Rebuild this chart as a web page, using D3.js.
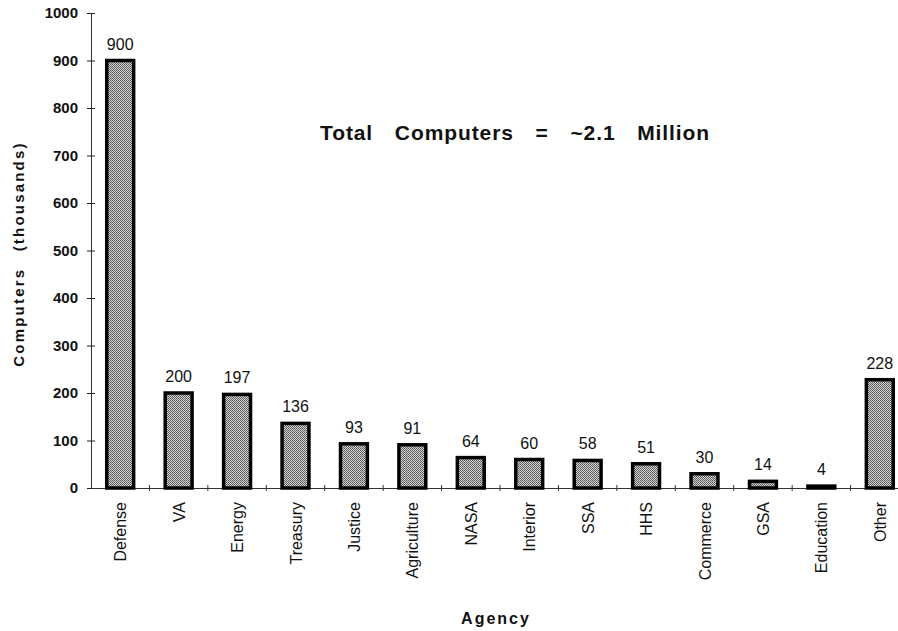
<!DOCTYPE html>
<html>
<head>
<meta charset="utf-8">
<script src="https://cdn.jsdelivr.net/npm/d3@7"></script>
<style>
  body { margin: 0; background: #fff; }
  text { font-family: "Liberation Sans", Arial, Helvetica, sans-serif; fill: #111; }
</style>
</head>
<body>
<div class="canvas"></div>
<script>
// data (thousands of computers)
const agencies = ["Defense", "VA", "Energy", "Treasury", "Justice", "Agriculture", "NASA",
                  "Interior", "SSA", "HHS", "Commerce", "GSA", "Education", "Other"];
const computers = [900, 200, 197, 136, 93, 91, 64, 60, 58, 51, 30, 14, 4, 228];
const yTicks = [0, 100, 200, 300, 400, 500, 600, 700, 800, 900, 1000];

const W = 898, H = 631;

const svg = d3.select(".canvas")
  .append("svg")
    .attr("width", W)
    .attr("height", H);

// stippled grey fill like the scanned bars
const defs = svg.append("defs");
const pat = defs.append("pattern")
    .attr("id", "stipple")
    .attr("patternUnits", "userSpaceOnUse")
    .attr("width", 2).attr("height", 2);
pat.append("rect").attr("width", 2).attr("height", 2).attr("fill", "#d4d4d4");
pat.append("rect").attr("width", 1).attr("height", 1).attr("fill", "#555");
pat.append("rect").attr("x", 1).attr("y", 1).attr("width", 1).attr("height", 1).attr("fill", "#666");

const x = d3.scaleBand()
    .domain(agencies)
    .range([91, 909])
    .paddingInner(0.54)
    .paddingOuter(0.27);

const y = d3.scaleLinear()
    .domain([0, 1000])
    .range([488, 13]);

// y axis
const yAxis = svg.append("g")
    .attr("transform", "translate(91,0)")
    .call(d3.axisLeft(y).tickValues(yTicks).tickFormat(d3.format("d")).tickSize(4).tickPadding(9));
yAxis.select(".domain").attr("stroke", "#333").attr("stroke-width", 1);
yAxis.selectAll(".tick line").attr("x2", 4).attr("x1", -4).attr("stroke", "#222");
yAxis.selectAll(".tick text")
    .style("font-size", "15px")
    .style("font-weight", "bold");

// baseline with ticks between bars
const xAxis = svg.append("g")
    .attr("transform", `translate(0,${y(0)})`)
    .call(d3.axisBottom(x).tickSize(0).tickFormat(""));
xAxis.select(".domain").attr("stroke", "#333").attr("stroke-width", 1);
xAxis.selectAll(".tick").remove();
const step = x.step();
svg.selectAll(".sep")
  .data(agencies.slice(1))
  .join("line")
    .attr("class", "sep")
    .attr("x1", d => x(d) - (step - x.bandwidth()) / 2)
    .attr("x2", d => x(d) - (step - x.bandwidth()) / 2)
    .attr("y1", y(0) - 3)
    .attr("y2", y(0) + 3)
    .attr("stroke", "#333");

// bars
svg.selectAll(".bar")
  .data(computers)
  .join("rect")
    .attr("class", "bar")
    .attr("x", (d, i) => x(agencies[i]))
    .attr("y", d => y(d))
    .attr("width", x.bandwidth())
    .attr("height", d => y(0) - y(d))
    .attr("fill", "url(#stipple)")
    .attr("stroke", "#000")
    .attr("stroke-width", 3.5);

// value labels
svg.selectAll(".val")
  .data(computers)
  .join("text")
    .attr("class", "val")
    .attr("x", (d, i) => x(agencies[i]) + x.bandwidth() / 2)
    .attr("y", d => y(d) - 11)
    .attr("text-anchor", "middle")
    .style("font-size", "16px")
    .text(d => d);

// category labels, rotated
svg.selectAll(".cat")
  .data(agencies)
  .join("text")
    .attr("class", "cat")
    .attr("transform", d => `translate(${x(d) + x.bandwidth() / 2 + 6},502) rotate(-90)`)
    .attr("text-anchor", "end")
    .style("font-size", "16px")
    .text(d => d);

// axis titles
svg.append("text")
    .attr("x", 496)
    .attr("y", 624)
    .attr("text-anchor", "middle")
    .style("font-size", "16px")
    .style("font-weight", "bold")
    .style("letter-spacing", "2px")
    .text("Agency");

svg.append("text")
    .attr("transform", "translate(24,254) rotate(-90)")
    .attr("text-anchor", "middle")
    .style("font-size", "15px")
    .style("font-weight", "bold")
    .style("letter-spacing", "2.2px")
    .style("word-spacing", "10px")
    .text("Computers (thousands)");

// annotation
svg.append("text")
    .attr("x", 515)
    .attr("y", 140)
    .attr("text-anchor", "middle")
    .style("font-size", "21px")
    .style("font-weight", "bold")
    .style("letter-spacing", "0.9px")
    .style("word-spacing", "15px")
    .text("Total Computers = ~2.1 Million");
</script>
</body>
</html>
